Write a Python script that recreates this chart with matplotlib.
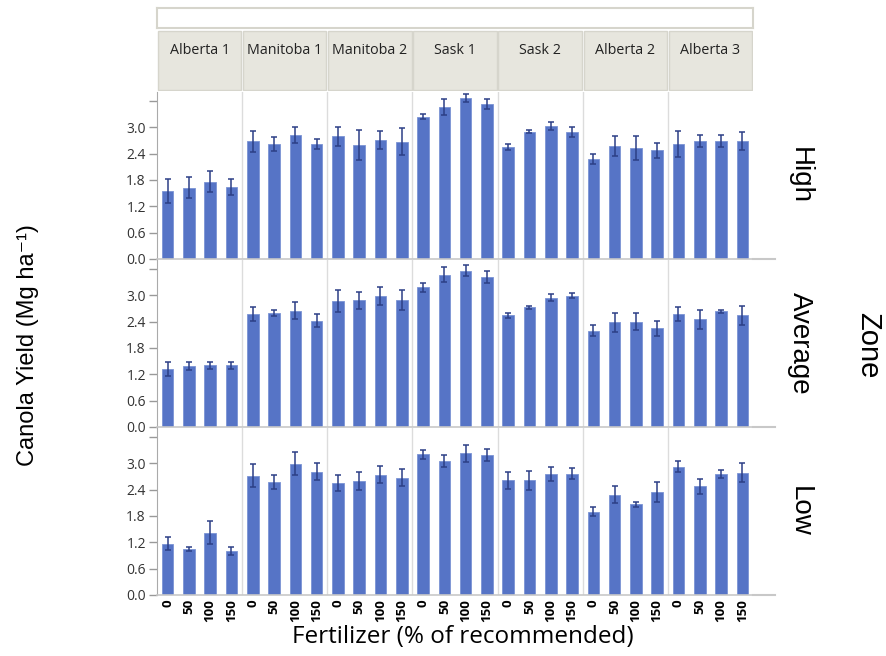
import matplotlib.pyplot as plt
from matplotlib.patches import Rectangle
import numpy as np

sites = ['Alberta 1', 'Manitoba 1', 'Manitoba 2', 'Sask 1', 'Sask 2', 'Alberta 2', 'Alberta 3']
rates = ['0', '50', '100', '150']
zones = ['High', 'Average', 'Low']

# mean yield per site (4 fertilizer rates each)
high = [1.54, 1.62, 1.76, 1.64, 2.68, 2.62, 2.83, 2.62, 2.79, 2.59, 2.71, 2.67,
        3.24, 3.45, 3.66, 3.53, 2.55, 2.90, 3.02, 2.89, 2.28, 2.58, 2.53, 2.47,
        2.62, 2.69, 2.69, 2.69]
high_err = [0.27, 0.24, 0.24, 0.19, 0.24, 0.16, 0.18, 0.12, 0.22, 0.34, 0.21, 0.30,
            0.05, 0.18, 0.09, 0.12, 0.07, 0.03, 0.09, 0.11, 0.11, 0.23, 0.27, 0.18,
            0.30, 0.14, 0.14, 0.21]
average = [1.31, 1.39, 1.40, 1.40, 2.57, 2.60, 2.65, 2.42, 2.86, 2.88, 2.98, 2.89,
           3.18, 3.46, 3.56, 3.42, 2.54, 2.72, 2.94, 2.99, 2.19, 2.38, 2.40, 2.25,
           2.57, 2.45, 2.63, 2.54]
average_err = [0.16, 0.09, 0.07, 0.09, 0.16, 0.07, 0.19, 0.15, 0.25, 0.20, 0.20, 0.23,
               0.10, 0.17, 0.13, 0.14, 0.06, 0.04, 0.08, 0.06, 0.13, 0.21, 0.20, 0.17,
               0.16, 0.22, 0.04, 0.22]
low = [1.17, 1.04, 1.42, 1.01, 2.71, 2.57, 2.99, 2.81, 2.55, 2.60, 2.74, 2.67,
       3.20, 3.05, 3.22, 3.19, 2.61, 2.61, 2.76, 2.76, 1.90, 2.28, 2.06, 2.35,
       2.92, 2.47, 2.76, 2.78]
low_err = [0.15, 0.05, 0.26, 0.09, 0.26, 0.15, 0.26, 0.19, 0.19, 0.20, 0.20, 0.19,
           0.11, 0.13, 0.20, 0.14, 0.20, 0.22, 0.16, 0.13, 0.11, 0.19, 0.06, 0.23,
           0.13, 0.18, 0.09, 0.22]

data = [(high, high_err), (average, average_err), (low, low_err)]

W, H = 887, 656
fig = plt.figure(figsize=(W / 100, H / 100), dpi=100)
txt = ['Open Sans', 'DejaVu Sans']
big = ['Liberation Sans', 'DejaVu Sans']

def box(x0, y0, x1, y1):
    # pixel box (top-left origin) -> figure fraction rect
    return [x0 / W, 1 - y1 / H, (x1 - x0) / W, (y1 - y0) / H]

left, right = 157, 753
rows_px = [(92, 259), (260, 427), (428, 595)]
n = len(sites) * len(rates)
x = np.arange(n) + 0.5

for r, (vals, errs) in enumerate(data):
    ax = fig.add_axes(box(left, rows_px[r][0], right, rows_px[r][1]))
    ax.bar(x, vals, width=0.55, color='#5674c6', edgecolor='#7b93d4', linewidth=0.6, zorder=2)
    ax.errorbar(x, vals, yerr=errs, fmt='none', ecolor='#2c3f86', elinewidth=1.1,
                capsize=2.5, capthick=1.1, zorder=3)
    for g in range(1, len(sites)):
        ax.axvline(g * 4, color='#dcdcdc', lw=1, zorder=1)
    ax.set_xlim(0, n)
    ax.set_ylim(0, 3.8)
    ax.set_yticks([0, 0.6, 1.2, 1.8, 2.4, 3.0, 3.6])
    ax.set_yticklabels(['0.0', '0.6', '1.2', '1.8', '2.4', '3.0', ''],
                       fontsize=10, color='#333333', family=txt)
    ax.tick_params(axis='y', length=6, color='#999999', width=1, pad=2)
    for s in ['top', 'right']:
        ax.spines[s].set_visible(False)
    ax.spines['left'].set_color('#aaaaaa')
    ax.spines['bottom'].set_color('#c8c8c8')
    ax.spines['bottom'].set_linewidth(1.2)
    if r == 2:
        ax.set_xticks(x)
        ax.set_xticklabels(rates * len(sites), rotation=90, fontsize=9.5,
                           fontweight='bold', family=txt)
        ax.tick_params(axis='x', length=0, pad=3)
    else:
        ax.set_xticks([])
    # zone label on the right
    yc = (rows_px[r][0] + rows_px[r][1]) / 2
    fig.text(800 / W, 1 - yc / H, zones[r], rotation=-90, ha='center', va='center',
             fontsize=20, family=big)
    # small grey line to the right of panel bottom
    fig.add_artist(plt.Line2D([right / W, 775 / W], [1 - rows_px[r][1] / H] * 2,
                              color='#c8c8c8', lw=1.5))

# strip with site names
sax = fig.add_axes(box(left, 30, right, 91))
sax.set_xlim(0, len(sites))
sax.set_ylim(0, 1)
sax.axis('off')
for i, s in enumerate(sites):
    sax.add_patch(Rectangle((i + 0.01, 0.02), 0.98, 0.96, facecolor='#e7e6de',
                            edgecolor='#d6d5cc', lw=1))
    sax.text(i + 0.5, 0.66, s, ha='center', va='center', fontsize=10.3,
             color='#222222', family=txt)

# empty white header box
hax = fig.add_axes(box(left, 8, right, 28))
hax.set_xticks([])
hax.set_yticks([])
for sp in hax.spines.values():
    sp.set_color('#d6d5cc')
    sp.set_linewidth(1.5)

fig.text(28 / W, 1 - 345 / H, 'Canola Yield (Mg ha\u207b\u00b9)', rotation=90,
         ha='center', va='center', fontsize=17, family=big)
fig.text(463 / W, 1 - 637 / H, 'Fertilizer (% of recommended)', ha='center',
         va='center', fontsize=17.5, family=txt)
fig.text(868 / W, 1 - 345 / H, 'Zone', rotation=-90, ha='center', va='center',
         fontsize=21, family=big)

fig.savefig('out.png', dpi=100)
